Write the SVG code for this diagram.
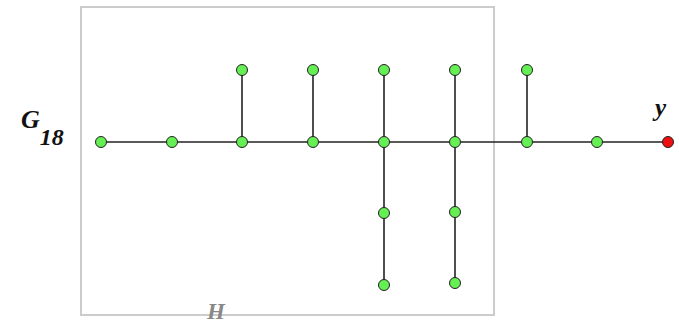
<svg xmlns="http://www.w3.org/2000/svg" width="679" height="323" viewBox="0 0 679 323">
  <style>
    .edge { stroke: #222; stroke-width: 1.6; fill: none; }
    .node { fill: #66ee55; stroke: #222; stroke-width: 1; }
    .root { fill: #ee1111; stroke: #222; stroke-width: 1; }
    .lbl { font-family: "Liberation Serif", serif; font-style: italic; font-weight: bold; }
  </style>
  <rect width="679" height="323" fill="#ffffff"/>
  <!-- subgraph H -->
  <g id="H">
    <rect x="81" y="7" width="413" height="308" fill="none" stroke="#cccccc" stroke-width="2"/>
    <text class="lbl" x="207" y="319" font-size="23" fill="#888888">H</text>
  </g>
  <g id="connectors">
    <line class="edge" x1="101" y1="142" x2="668" y2="142"/>
    <line class="edge" x1="242" y1="70" x2="242" y2="142"/>
    <line class="edge" x1="313" y1="70" x2="313" y2="142"/>
    <line class="edge" x1="384" y1="70" x2="384" y2="285"/>
    <line class="edge" x1="455" y1="70" x2="455" y2="283"/>
    <line class="edge" x1="527" y1="70" x2="527" y2="142"/>
  </g>
  <g id="n1"><circle class="node" cx="101" cy="142" r="5.5"/></g>
  <g id="n2"><circle class="node" cx="172" cy="142" r="5.5"/></g>
  <g id="n3"><circle class="node" cx="242" cy="142" r="5.5"/></g>
  <g id="n4"><circle class="node" cx="313" cy="142" r="5.5"/></g>
  <g id="n5"><circle class="node" cx="384" cy="142" r="5.5"/></g>
  <g id="n6"><circle class="node" cx="455" cy="142" r="5.5"/></g>
  <g id="n7"><circle class="node" cx="527" cy="142" r="5.5"/></g>
  <g id="n8"><circle class="node" cx="597" cy="142" r="5.5"/></g>
  <g id="y"><circle class="root" cx="668" cy="142" r="5.5"/>
    <text class="lbl" x="655" y="116" font-size="25" fill="#111">y</text></g>
  <g id="t3"><circle class="node" cx="242" cy="70" r="5.5"/></g>
  <g id="t4"><circle class="node" cx="313" cy="70" r="5.5"/></g>
  <g id="t5"><circle class="node" cx="384" cy="70" r="5.5"/></g>
  <g id="t6"><circle class="node" cx="455" cy="70" r="5.5"/></g>
  <g id="t7"><circle class="node" cx="527" cy="70" r="5.5"/></g>
  <g id="b5a"><circle class="node" cx="384" cy="213" r="5.5"/></g>
  <g id="b5b"><circle class="node" cx="384" cy="285" r="5.5"/></g>
  <g id="b6a"><circle class="node" cx="455" cy="212" r="5.5"/></g>
  <g id="b6b"><circle class="node" cx="455" cy="283" r="5.5"/></g>
  <g id="G18">
    <text class="lbl" x="21" y="128" font-size="26" fill="#111">G<tspan font-size="24" dy="17">18</tspan></text>
  </g>
</svg>
